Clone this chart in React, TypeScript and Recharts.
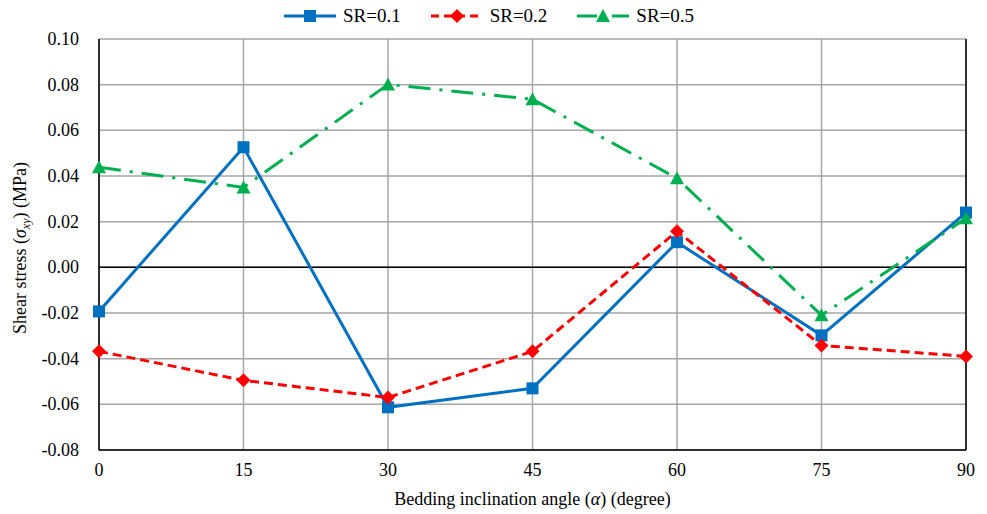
import React from 'react'
import {
  LineChart,
  Line,
  XAxis,
  YAxis,
  CartesianGrid,
  Legend,
  ReferenceLine
} from 'recharts'

const angles = [0, 15, 30, 45, 60, 75, 90]
const sr01 = [-0.0193, 0.0526, -0.0613, -0.053, 0.011, -0.0298, 0.024]
const sr02 = [-0.0368, -0.0495, -0.057, -0.0368, 0.0158, -0.0342, -0.039]
const sr05 = [0.0438, 0.035, 0.0801, 0.0736, 0.039, -0.021, 0.0215]
const yTicks = [-0.08, -0.06, -0.04, -0.02, 0, 0.02, 0.04, 0.06, 0.08, 0.1]

const data = angles.map((a, i) => ({ angle: a, sr01: sr01[i], sr02: sr02[i], sr05: sr05[i] }))

const FONT = 'Liberation Serif, Times New Roman, serif'
const BLUE = '#0070C0'
const RED = '#FF0000'
const GREEN = '#00B050'

const SquareDot = (props: any) => {
  const { cx, cy } = props
  if (cx == null || cy == null) return null
  return <rect x={cx - 6} y={cy - 6} width={12} height={12} fill={BLUE} />
}

const DiamondDot = (props: any) => {
  const { cx, cy } = props
  if (cx == null || cy == null) return null
  return <polygon points={`${cx},${cy - 7} ${cx + 7},${cy} ${cx},${cy + 7} ${cx - 7},${cy}`} fill={RED} />
}

const TriangleDot = (props: any) => {
  const { cx, cy } = props
  if (cx == null || cy == null) return null
  return <polygon points={`${cx},${cy - 7} ${cx + 7},${cy + 6} ${cx - 7},${cy + 6}`} fill={GREEN} />
}

const legendItems = [
  { name: 'SR=0.1', color: BLUE, dash: undefined, Dot: SquareDot },
  { name: 'SR=0.2', color: RED, dash: '8 5', Dot: DiamondDot },
  { name: 'SR=0.5', color: GREEN, dash: '20 6 3 6', Dot: TriangleDot }
]

const LegendContent = () => (
  <div style={{ display: 'flex', justifyContent: 'center', gap: 28, fontFamily: FONT, fontSize: 19, height: 20, lineHeight: '20px', paddingLeft: 10 }}>
    {legendItems.map(({ name, color, dash, Dot }) => (
      <div key={name} style={{ display: 'flex', alignItems: 'center', gap: 5 }}>
        <svg width={56} height={16}>
          <line x1={2} y1={8} x2={54} y2={8} stroke={color} strokeWidth={3} strokeDasharray={dash} />
          <Dot cx={28} cy={8} />
        </svg>
        <span style={{ fontFamily: FONT }}>{name}</span>
      </div>
    ))}
  </div>
)

const YLabel = () => (
  <text
    transform="translate(26, 248) rotate(-90)"
    textAnchor="middle"
    style={{ fontFamily: FONT, fontSize: 18 }}
    fill="#000"
  >
    Shear stress (<tspan fontStyle="italic">σ</tspan>
    <tspan fontStyle="italic" style={{ fontSize: 12 }} dy={4}>xy</tspan>
    <tspan dy={-4}>)  (MPa)</tspan>
  </text>
)

const XTick = (props: any) => {
  const { x, y, payload } = props
  return (
    <text x={x} y={y + 18} textAnchor="middle" fill="#000" style={{ fontFamily: FONT, fontSize: 18 }}>
      {payload.value}
    </text>
  )
}

const YTick = (props: any) => {
  const { x, y, payload } = props
  return (
    <text x={x - 12} y={y + 6} textAnchor="end" fill="#000" style={{ fontFamily: FONT, fontSize: 18 }}>
      {Number(payload.value).toFixed(2)}
    </text>
  )
}

const XLabel = (props: any) => {
  const { viewBox } = props
  const cx = viewBox.x + viewBox.width / 2
  return (
    <text x={cx} y={505} textAnchor="middle" fill="#000" style={{ fontFamily: FONT, fontSize: 18 }}>
      Bedding inclination angle (<tspan fontStyle="italic">α</tspan>) (degree)
    </text>
  )
}

export default function App() {
  return (
    <div style={{ position: 'absolute', left: 0, top: 0, width: 987, height: 514, background: '#fff', fontFamily: FONT }}>
      <LineChart
        width={987}
        height={514}
        data={data}
        margin={{ top: 19, right: 21, left: 0, bottom: 0 }}
      >
        <CartesianGrid stroke="#a6a6a6" strokeWidth={1.5} />
        <XAxis
          dataKey="angle"
          type="number"
          domain={[0, 90]}
          ticks={angles}
          tickLine={false}
          axisLine={{ stroke: '#000', strokeWidth: 1.5 }}
          tick={<XTick />}
          height={64}
          label={<XLabel />}
        />
        <YAxis
          type="number"
          domain={[-0.08, 0.1]}
          ticks={yTicks}
          tickLine={false}
          axisLine={{ stroke: '#000', strokeWidth: 1.5 }}
          tick={<YTick />}
          width={99}
          label={<YLabel />}
        />
        <ReferenceLine y={0} stroke="#000" strokeWidth={1.5} />
        <ReferenceLine x={90} stroke="#000" strokeWidth={1.5} />
        <Legend verticalAlign="top" height={20} content={<LegendContent />} wrapperStyle={{ top: 6 }} />
        <Line
          dataKey="sr01"
          name="SR=0.1"
          stroke={BLUE}
          strokeWidth={3}
          type="linear"
          dot={<SquareDot />}
          activeDot={false}
          isAnimationActive={false}
        />
        <Line
          dataKey="sr02"
          name="SR=0.2"
          stroke={RED}
          strokeWidth={3}
          strokeDasharray="9 5"
          type="linear"
          dot={<DiamondDot />}
          activeDot={false}
          isAnimationActive={false}
        />
        <Line
          dataKey="sr05"
          name="SR=0.5"
          stroke={GREEN}
          strokeWidth={3}
          strokeDasharray="22 9 3 9"
          type="linear"
          dot={<TriangleDot />}
          activeDot={false}
          isAnimationActive={false}
        />
      </LineChart>
    </div>
  )
}
